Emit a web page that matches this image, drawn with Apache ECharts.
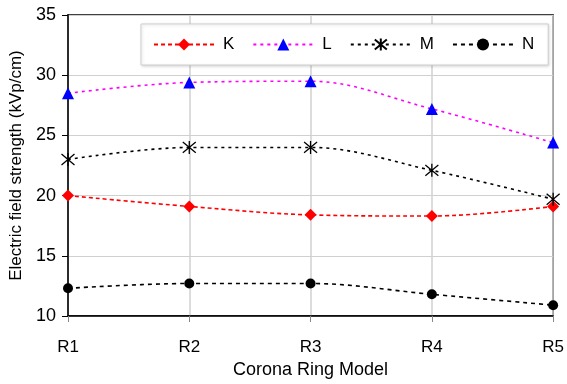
<!DOCTYPE html>
<html>
<head>
<meta charset="utf-8">
<script src="https://cdn.jsdelivr.net/npm/echarts@6/dist/echarts.min.js"></script>
<style>
  html, body { margin: 0; padding: 0; background: #fff; }
  #chart { width: 567px; height: 384px; }
</style>
</head>
<body>
<div id="chart"></div>
<script>
// data
const categories = ['R1', 'R2', 'R3', 'R4', 'R5'];
const seriesK = [20.0, 19.1, 18.4, 18.3, 19.1];
const seriesL = [28.5, 29.4, 29.5, 27.2, 24.4];
const seriesM = [23.0, 24.0, 24.0, 22.1, 19.7];
const seriesN = [12.3, 12.7, 12.7, 11.8, 10.9];
const yTicks = [10, 15, 20, 25, 30, 35];

const font = 'Liberation Sans, Arial, sans-serif';
const asterisk = 'path://M0,0L10,10M10,0L0,10M5,-1L5,11';

const chart = echarts.init(document.getElementById('chart'));

const makeSeries = (name, data, color, lineColor, symbol, size, dash) => ({
  name,
  type: 'line',
  data,
  smooth: 0.35,
  symbol,
  symbolSize: size,
  showSymbol: true,
  itemStyle: symbol === asterisk ? {color: 'rgba(0,0,0,0)', borderColor: color, borderWidth: 1.3} : {color},
  lineStyle: {color: lineColor, width: 1.6, type: dash},
  z: 3
});

const option = {
  animation: false,
  backgroundColor: '#fff',
  grid: {left: 68, right: 11, top: 15, bottom: 68, show: true, borderColor: '#000', borderWidth: 1.5},
  legend: {
    left: 141,
    top: 24,
    width: 406,
    height: 43,
    padding: [12, 14, 12, 12],
    itemWidth: 60,
    itemHeight: 15,
    itemGap: 18,
    backgroundColor: '#fff',
    borderColor: '#cfcfcf',
    borderWidth: 1,
    shadowColor: 'rgba(0,0,0,0.15)',
    shadowBlur: 3,
    shadowOffsetX: 1,
    shadowOffsetY: 1,
    textStyle: {fontFamily: font, fontSize: 17, color: '#000', width: 14, padding: [0, 0, 0, 4]},
    data: ['K', 'L', 'M', 'N']
  },
  xAxis: {
    type: 'category',
    data: categories,
    boundaryGap: false,
    name: 'Corona Ring Model',
    nameLocation: 'middle',
    nameGap: 43,
    nameTextStyle: {fontFamily: font, fontSize: 18, color: '#000'},
    axisLine: {lineStyle: {color: '#000', width: 1.5}},
    axisTick: {show: true, length: 6, lineStyle: {color: '#888'}},
    axisLabel: {fontFamily: font, fontSize: 17, color: '#000', margin: 23},
    splitLine: {show: true, lineStyle: {color: '#d0d0d0', width: 1.5}}
  },
  yAxis: {
    type: 'value',
    min: yTicks[0],
    max: yTicks[yTicks.length - 1],
    interval: 5,
    name: 'Electric field strength (kVp/cm)',
    nameLocation: 'middle',
    nameGap: 43,
    nameTextStyle: {fontFamily: font, fontSize: 17, color: '#000'},
    axisLine: {show: true, lineStyle: {color: '#000', width: 1.5}},
    axisTick: {show: true, length: 6, lineStyle: {color: '#000'}},
    axisLabel: {fontFamily: font, fontSize: 18, color: '#000', margin: 12},
    splitLine: {show: true, lineStyle: {color: '#d0d0d0', width: 1}}
  },
  series: [
    makeSeries('K', seriesK, '#ff0000', '#ff0000', 'diamond', 12, [4, 3]),
    makeSeries('L', seriesL, '#0000ff', '#ff00ff', 'triangle', 12, [3, 4]),
    makeSeries('M', seriesM, '#000', '#000', asterisk, 13, [3, 4]),
    makeSeries('N', seriesN, '#000', '#000', 'circle', 10, [4, 4])
  ]
};

chart.setOption(option);
</script>
</body>
</html>
